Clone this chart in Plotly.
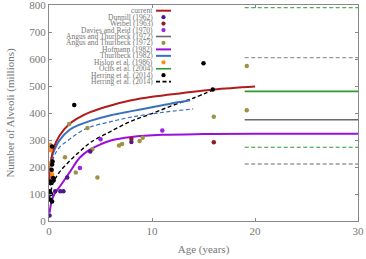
import plotly.graph_objects as go

# ---------------- data ----------------
current_age = [0.05, 0.2, 0.5, 1, 2, 3, 4, 6, 8, 10, 13, 16, 20]
current_alv = [150, 222, 275, 315, 360, 385, 403, 428, 447, 460, 474, 487, 498]

thurl_age = [0.1, 0.3, 0.6, 1, 2, 3, 4, 6, 8, 10, 12, 13.7]
thurl_alv = [200, 240, 270, 298, 338, 357, 371, 392, 407, 421, 436, 447]

thurl_lo_age = [0.2, 0.5, 1, 2, 3, 4, 6, 8, 11, 14]
thurl_lo_alv = [200, 240, 272, 303, 330, 348, 368, 385, 402, 415]

hof_age = [0.05, 0.3, 0.6, 1, 2, 3, 4, 5, 6, 8, 11, 15, 20, 30]
hof_alv = [30, 80, 105, 125, 180, 235, 265, 284, 298, 311, 319, 322, 323, 323]

herr_line_age = [0.05, 0.4, 1, 2, 3, 4, 6, 8, 10, 12, 14, 16]
herr_line_alv = [85, 140, 180, 222, 258, 290, 332, 370, 398, 428, 455, 487]

adult_age = [19, 30]
angus_mean = [375, 375]
angus_lo = [211, 211]
angus_hi = [605, 605]
ochs_mean = [480, 480]
ochs_lo = [273, 273]
ochs_hi = [790, 790]

dunnill_age = [0.05, 0.6, 1.1, 1.4, 1.77, 4.0, 8.0]
dunnill_alv = [20, 110, 110, 110, 161, 257, 293]

weibel_age = [8.0, 16.0]
weibel_alv = [304, 292]

davies_age = [3.0, 5.0, 11.0]
davies_alv = [196, 303, 335]

angus_pt_age = [1.55, 1.96, 2.6, 3.74, 4.2, 4.7, 6.8, 7.1, 8.8, 9.1, 16.0, 19.2, 19.2]
angus_pt_alv = [236, 359, 180, 344, 266, 161, 280, 285, 296, 308, 386, 410, 574]

hislop_age = [0.1, 0.2, 0.15, 0.1, 0.2, 0.25, 0.3]
hislop_alv = [282, 276, 262, 214, 208, 185, 171]

herr_pt_age = [0.3, 0.35, 0.3, 0.25, 0.4, 0.1, 0.15, 0.05, 0.2, 0.15, 0.3, 0.45, 2.45, 15.0, 15.9]
herr_pt_alv = [276, 220, 209, 190, 159, 146, 140, 110, 100, 79, 72, 150, 430, 584, 487]

x_ticks = [0, 10, 20, 30]
y_ticks = [0, 100, 200, 300, 400, 500, 600, 700, 800]

# ---------------- styles ----------------
C_RED = "#b01c1c"
C_DUN = "#4a1a8c"
C_WEI = "#8e1c24"
C_DAV = "#9a1ee6"
C_GRAY = "#6a6a6a"
C_OLIVE = "#9c9444"
C_HOF = "#9a10d8"
C_BLUE = "#3a70c0"
C_ORANGE = "#ff8a1c"
C_GREEN = "#2e9a2e"
C_BLACK = "#000000"
FONT = "Liberation Serif"
TXT = "#777777"
DASH = "4px,2.5px"

fig = go.Figure()

def line(x, y, color, width, dash="solid", shape="spline"):
    fig.add_trace(go.Scatter(x=x, y=y, mode="lines", line=dict(color=color, width=width, dash=dash, shape=shape),
                             showlegend=False, hoverinfo="skip"))

def pts(x, y, color, size=4.5):
    fig.add_trace(go.Scatter(x=x, y=y, mode="markers", marker=dict(color=color, size=size, line=dict(width=0)),
                             showlegend=False, hoverinfo="skip"))

# adult ranges
line(adult_age, ochs_hi, "#5aaa5a", 1.3, DASH, "linear")
line(adult_age, angus_hi, "#999999", 1.3, DASH, "linear")
line(adult_age, ochs_mean, C_GREEN, 1.6, "solid", "linear")
line(adult_age, angus_mean, C_GRAY, 1.6, "solid", "linear")
line(adult_age, ochs_lo, C_GREEN, 1.1, DASH, "linear")
line(adult_age, angus_lo, C_GRAY, 1.1, DASH, "linear")

# curves
line(hof_age, hof_alv, C_HOF, 2)
line(herr_line_age, herr_line_alv, C_BLACK, 1.4, DASH)
line(thurl_lo_age, thurl_lo_alv, C_BLUE, 1.2, DASH)
line(thurl_age, thurl_alv, C_BLUE, 2)
line(current_age, current_alv, C_RED, 2)

# points
pts(angus_pt_age, angus_pt_alv, C_OLIVE)
pts(dunnill_age, dunnill_alv, C_DUN)
pts(weibel_age, weibel_alv, C_WEI)
pts(davies_age, davies_alv, C_DAV)
pts(hislop_age, hislop_alv, C_ORANGE)
pts(herr_pt_age, herr_pt_alv, C_BLACK)

# ---------------- manual legend (text left of symbol) ----------------
L, R, T, B = 49, 8, 5, 38
W, H = 366, 259
pw, ph = W - L - R, H - T - B
def px(xp): return (xp - L) / pw
def py(yp): return (H - B - yp) / ph

legend_items = [
    ("current", "line", C_RED, "solid", 2),
    ("Dunnill (1962)", "dot", C_DUN, None, None),
    ("Weibel (1963)", "dot", C_WEI, None, None),
    ("Davies and Reid (1970)", "dot", C_DAV, None, None),
    ("Angus and Thurlbeck (1972)", "line", C_GRAY, "solid", 1.6),
    ("Angus and Thurlbeck (1972)", "dot", C_OLIVE, None, None),
    ("Hofmann (1982)", "line", C_HOF, "solid", 2),
    ("Thurlbeck (1982)", "line", C_BLUE, "solid", 2),
    ("Hislop et al. (1986)", "dot", C_ORANGE, None, None),
    ("Ochs et al. (2004)", "line", C_GREEN, "solid", 1.6),
    ("Herring et al. (2014)", "dot", C_BLACK, None, None),
    ("Herring et al. (2014)", "line", C_BLACK, "dash", 1.6),
]
y0, dy = 10.7, 6.45
text_right, sym_l, sym_r = 153.5, 156, 171
annotations = []
shapes = []
for i, (lab, kind, col, dash, wdt) in enumerate(legend_items):
    yy = y0 + i * dy
    annotations.append(dict(x=px(text_right), y=py(yy), xref="paper", yref="paper", text=lab, showarrow=False,
                            xanchor="right", yanchor="middle", borderpad=0,
                            font=dict(family=FONT, size=7.5, color=TXT)))
    if kind == "line":
        shapes.append(dict(type="line", xref="paper", yref="paper", x0=px(sym_l), x1=px(sym_r), y0=py(yy), y1=py(yy),
                           line=dict(color=col, width=wdt, dash=DASH if dash == "dash" else "solid")))
    else:
        cx, r = (sym_l + sym_r) / 2, 2.1
        shapes.append(dict(type="circle", xref="paper", yref="paper", x0=px(cx - r), x1=px(cx + r),
                           y0=py(yy + r), y1=py(yy - r), fillcolor=col, line=dict(width=0)))

axis_common = dict(showgrid=False, zeroline=False, showline=True, linecolor="#888888", linewidth=1,
                   ticks="inside", ticklen=3, tickcolor="#888888", mirror="ticks",
                   ticklabeloverflow="allow",
                   tickfont=dict(family=FONT, size=11, color=TXT), automargin=False)

fig.update_layout(
    width=W, height=H, margin=dict(l=L, r=R, t=T, b=B, autoexpand=False),
    paper_bgcolor="white", plot_bgcolor="white",
    xaxis=dict(range=[0, 30], tickvals=x_ticks, title=dict(text="Age (years)", font=dict(family=FONT, size=11, color=TXT), standoff=9), **axis_common),
    yaxis=dict(range=[0, 800], tickvals=y_ticks, title=dict(text="Number of Alveoli (millions)", font=dict(family=FONT, size=11, color=TXT), standoff=12), **axis_common),
    annotations=annotations, shapes=shapes, showlegend=False,
)

fig.write_html("out.html", config={"displayModeBar": False},
               post_script="document.body.style.margin='0';document.body.style.padding='0';")
